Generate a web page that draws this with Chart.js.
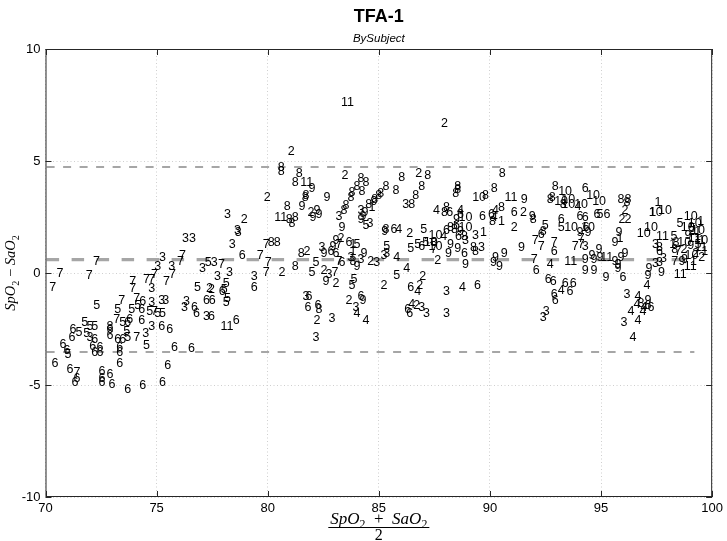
<!DOCTYPE html>
<html>
<head>
<meta charset="utf-8">
<script src="https://cdn.jsdelivr.net/npm/chart.js@4.4.1/dist/chart.umd.min.js"></script>
<style>
  body { margin: 0; background: #fff; }
  canvas { display: block; }
</style>
</head>
<body>
<canvas id="baPlot" width="727" height="541"></canvas>
<script>
// Bland-Altman: x = (SpO2 + SaO2)/2, y = SpO2 - SaO2, one label per sample (subject id)
const subj1 = [[84.53,2.90],[83.68,1.25],[83.68,0.98],[90.36,2.28],[89.55,1.79],[97.40,3.13],[97.17,2.68],[95.70,1.56],[98.07,1.25],[99.33,2.28],[99.19,1.83],[99.37,1.47],[99.51,0.94],[99.00,0.50]];
const subj2 = [[77.22,-0.71],[80.90,5.40],[79.82,3.35],[83.32,4.33],[81.79,2.68],[78.79,2.37],[81.61,0.94],[83.14,1.56],[84.48,0.49],[82.38,0.13],[82.91,-0.45],[80.49,0.00],[77.31,-0.76],[83.50,-1.25],[82.06,-2.14],[87.80,6.65],[86.64,4.42],[91.35,2.72],[86.23,1.74],[90.94,2.01],[87.49,0.54],[86.82,-0.18],[85.07,-0.54],[86.68,-0.58],[86.55,-1.47],[95.92,2.77],[95.78,2.37],[96.05,2.37],[99.10,0.89],[98.92,1.83],[98.57,1.03],[99.37,0.67]];
const subj3 = [[76.14,1.52],[76.46,1.52],[75.11,0.67],[74.89,0.27],[75.52,0.27],[76.91,0.22],[74.62,-0.71],[75.07,-1.21],[75.25,-1.25],[74.62,-1.34],[76.19,-1.29],[76.10,-1.56],[77.09,-1.96],[71.84,-2.86],[74.62,-2.37],[74.35,-2.72],[78.03,2.63],[78.48,1.88],[78.52,1.79],[83.05,2.54],[84.04,2.77],[84.44,2.19],[78.25,1.25],[82.29,1.12],[83.59,0.71],[84.04,0.58],[84.75,0.45],[82.60,-0.09],[79.24,-0.18],[77.58,-0.18],[77.44,0.45],[78.12,0.00],[81.57,-1.03],[83.81,-1.56],[82.74,-2.05],[82.02,-2.86],[86.05,3.04],[88.74,1.47],[89.19,1.65],[85.20,0.89],[85.07,0.80],[89.46,1.12],[87.89,-0.85],[86.77,-1.56],[86.99,-1.83],[87.89,-1.83],[94.13,1.16],[97.29,1.29],[97.29,0.40],[97.47,0.45],[97.65,0.63],[96.01,-0.98],[92.38,-1.70],[92.24,-2.01],[95.87,-2.23]];
const subj4 = [[83.86,-1.79],[84.26,-2.14],[87.44,2.77],[88.52,2.81],[90.09,2.77],[90.04,2.46],[85.74,1.96],[87.76,1.61],[85.65,0.67],[86.10,0.18],[88.61,-0.63],[86.59,-0.85],[86.32,-1.43],[93.81,2.95],[92.56,0.36],[96.91,-0.54],[93.05,-0.80],[96.50,-1.07],[96.46,-1.43],[96.77,-1.56],[96.19,-1.74],[96.73,-1.74],[96.50,-2.14],[96.28,-2.86]];
const subj5 = [[77.17,0.45],[76.68,-0.63],[72.15,-1.47],[73.09,-1.65],[73.72,-1.65],[73.99,-1.47],[74.53,-1.74],[74.89,-1.79],[75.11,-1.79],[71.61,-2.19],[71.84,-2.37],[72.06,-2.37],[71.35,-2.68],[71.70,-2.72],[73.32,-2.23],[73.50,-2.63],[73.54,-2.86],[74.39,-3.26],[70.85,-3.66],[84.26,2.10],[83.86,1.25],[82.02,0.45],[81.84,0.04],[83.72,-0.31],[83.63,-0.54],[77.98,-0.45],[77.89,-0.76],[78.03,-1.12],[77.98,-1.34],[86.86,1.96],[85.20,1.16],[86.28,1.07],[86.59,1.25],[86.95,1.38],[85.65,-0.13],[94.80,2.59],[98.39,2.23],[92.33,2.14],[93.05,2.01],[98.12,1.61],[99.21,1.29],[98.95,2.00]];
const subj6 = [[74.22,-1.29],[74.17,-1.65],[76.55,-1.56],[76.64,-1.79],[77.09,-1.21],[77.35,-1.21],[77.31,-1.96],[71.08,-2.54],[71.03,-2.86],[72.06,-2.99],[71.97,-3.30],[72.29,-3.35],[72.29,-3.57],[72.06,-3.57],[72.74,-2.54],[72.74,-2.77],[73.54,-2.23],[73.63,-2.10],[74.17,-2.14],[75.07,-2.37],[75.43,-2.54],[73.09,-2.99],[73.32,-2.99],[73.18,-3.35],[73.18,-3.57],[70.63,-3.21],[70.81,-3.44],[75.65,-3.35],[76.41,-3.39],[70.27,-4.06],[73.18,-4.06],[75.34,-4.15],[70.94,-4.33],[71.26,-4.69],[71.17,-4.87],[72.38,-4.42],[72.74,-4.55],[72.38,-4.69],[72.38,-4.87],[72.83,-5.00],[73.54,-5.22],[74.22,-5.04],[75.11,-4.87],[78.70,0.76],[82.69,0.98],[82.91,0.89],[83.50,1.34],[83.18,0.45],[79.24,-0.63],[77.80,-0.85],[81.70,-1.03],[81.66,-1.52],[82.11,-1.47],[84.04,-1.03],[78.43,-2.14],[88.03,2.72],[88.52,2.63],[89.51,2.54],[89.91,2.59],[90.94,2.72],[85.52,1.96],[87.89,1.88],[88.34,2.14],[88.43,1.61],[86.77,1.16],[88.70,0.85],[86.28,-0.67],[89.28,-0.54],[91.93,0.09],[86.14,-1.61],[86.23,-1.83],[94.13,3.79],[93.90,2.50],[94.13,2.46],[94.66,2.59],[95.11,2.59],[93.05,2.37],[92.15,1.70],[94.17,2.01],[92.74,0.94],[95.83,-0.22],[97.47,0.98],[92.47,-0.27],[92.69,-0.36],[93.23,-0.45],[93.59,-0.45],[93.45,-0.85],[92.74,-0.98],[92.78,-1.21],[97.09,-1.56],[96.95,-1.47]];
const subj7 = [[72.14,0.50],[70.49,-0.01],[71.81,-0.13],[70.17,-0.64],[76.01,0.80],[75.92,0.49],[75.56,-0.09],[74.75,-0.09],[73.77,-0.40],[74.39,-0.31],[74.62,-0.31],[75.29,-0.36],[73.77,-0.71],[73.27,-1.21],[73.95,-1.16],[74.75,-1.74],[73.05,-2.10],[73.95,-2.86],[71.26,-4.46],[79.78,1.25],[79.51,0.76],[83.05,1.25],[83.05,0.49],[82.87,0.04],[79.87,0.45],[79.78,0.04],[77.76,0.36],[87.31,1.03],[91.84,0.58],[91.88,1.47],[92.15,1.16],[93.95,1.56],[93.95,1.29],[93.68,1.16],[92.74,1.34],[98.30,0.98],[98.16,0.49]];
const subj8 = [[72.74,-2.37],[80.45,4.73],[80.45,4.51],[81.26,4.46],[81.08,4.02],[81.57,3.48],[81.53,3.35],[84.04,4.20],[84.26,4.02],[83.86,3.88],[84.08,3.62],[83.63,3.57],[83.59,3.39],[84.84,3.48],[84.66,3.26],[80.72,2.95],[80.81,2.37],[81.08,2.46],[80.94,2.23],[83.27,2.81],[83.36,2.99],[84.39,3.04],[80.00,1.38],[80.27,1.34],[81.35,0.85],[83.68,0.49],[81.08,0.27],[82.15,-1.61],[85.87,4.24],[87.04,4.33],[90.40,4.42],[85.16,3.84],[85.61,3.66],[86.77,3.84],[86.50,3.44],[88.39,3.84],[88.39,3.71],[88.30,3.53],[90.04,3.75],[84.93,3.53],[86.32,3.04],[89.64,3.48],[87.80,2.68],[87.89,2.90],[90.36,2.90],[89.96,2.28],[91.79,2.37],[85.16,1.96],[88.07,2.01],[88.25,1.96],[88.70,1.61],[87.31,1.34],[89.10,1.12],[89.19,0.94],[92.24,1.83],[92.78,3.84],[92.56,3.26],[92.65,3.39],[93.14,3.04],[95.74,3.26],[96.05,3.26],[96.01,3.13],[97.47,1.12],[96.64,-1.38],[98.21,1.34],[98.16,1.03]];
const subj9 = [[81.84,3.75],[82.51,3.39],[84.62,3.17],[81.39,2.95],[82.06,2.81],[82.15,2.63],[81.88,2.46],[84.22,2.72],[84.04,2.37],[84.13,2.50],[83.18,2.05],[82.38,0.85],[82.78,1.16],[82.91,1.47],[84.17,0.89],[83.86,0.27],[82.47,-0.36],[84.13,-1.25],[91.39,3.30],[91.75,2.50],[85.11,1.83],[88.34,2.37],[88.52,1.83],[88.07,1.25],[87.98,0.85],[88.39,1.07],[88.74,0.36],[90.09,0.67],[90.49,0.85],[90.00,0.45],[90.27,0.31],[91.26,1.12],[93.90,1.79],[94.26,1.79],[94.13,0.58],[94.13,0.13],[94.53,0.58],[94.53,0.13],[94.44,0.76],[94.75,1.03],[94.80,0.71],[95.47,0.49],[95.61,0.36],[95.74,0.67],[95.92,0.89],[95.61,0.22],[95.07,-0.22],[95.65,1.79],[95.47,1.34],[97.56,0.04],[97.00,0.18],[96.95,-0.13],[96.95,-1.25],[98.48,0.49],[98.75,1.65],[98.88,1.21],[98.60,0.60]];
const subj10 = [[89.20,3.37],[87.24,1.65],[88.59,2.46],[88.59,2.01],[87.02,1.38],[87.24,1.16],[93.07,3.62],[94.33,3.48],[92.89,3.17],[93.21,3.26],[93.21,3.04],[93.79,3.04],[94.60,3.17],[97.15,2.68],[97.56,2.81],[98.72,2.50],[93.34,2.01],[94.10,2.05],[96.61,1.74],[96.93,2.05],[98.59,2.01],[98.90,2.19],[98.43,1.38],[98.76,0.76],[99.05,1.90],[99.20,1.45]];
const subj11 = [[81.46,4.02],[80.29,2.46],[77.87,-2.41],[83.30,7.63],[90.65,3.39],[93.34,0.49],[94.96,0.71],[97.47,1.61],[98.72,0.27],[98.27,-0.09],[98.90,1.56],[99.21,1.12]];

const subjects = [subj1, subj2, subj3, subj4, subj5, subj6, subj7, subj8, subj9, subj10, subj11];

// bias and limits of agreement
const bias = 0.6;
const loaUpper = 4.73;
const loaLower = -3.53;
const lineX = [70.05, 99.2];

const xTicks = [70, 75, 80, 85, 90, 95, 100];
const yTicks = [-10, -5, 0, 5, 10];

const FONT = '"Liberation Sans", Arial, Helvetica, sans-serif';
const SERIF = '"Liberation Serif", "Times New Roman", serif';

function hLine(y, width, dash) {
    return {
        type: 'line',
        data: lineX.map(x => ({ x: x, y: y })),
        borderColor: '#a6a6a6',
        borderWidth: width,
        borderDash: dash,
        pointRadius: 0,
        fill: false
    };
}

// draws each sample as its subject number
const labelPlugin = {
    id: 'subjectLabels',
    afterDatasetsDraw(chart) {
        const ctx = chart.ctx;
        ctx.save();
        ctx.font = '12.5px ' + FONT;
        ctx.fillStyle = '#000';
        ctx.textAlign = 'left';
        ctx.textBaseline = 'middle';
        chart.data.datasets.forEach((ds, i) => {
            if (!ds.subject) return;
            chart.getDatasetMeta(i).data.forEach(pt => ctx.fillText(ds.subject, pt.x, pt.y));
        });
        ctx.restore();
    }
};

// box, inward ticks and the math axis labels
const framePlugin = {
    id: 'frame',
    afterDraw(chart) {
        const ctx = chart.ctx;
        const a = chart.chartArea;
        const xs = chart.scales.x, ys = chart.scales.y;
        ctx.save();
        ctx.strokeStyle = '#262626';
        ctx.lineWidth = 1;
        ctx.strokeRect(a.left + 0.5, a.top + 0.5, a.right - a.left - 1, a.bottom - a.top - 1);
        ctx.beginPath();
        xTicks.forEach(v => {
            const px = Math.round(xs.getPixelForValue(v)) + 0.5;
            ctx.moveTo(px, a.bottom); ctx.lineTo(px, a.bottom - 6);
            ctx.moveTo(px, a.top); ctx.lineTo(px, a.top + 6);
        });
        yTicks.forEach(v => {
            const py = Math.round(ys.getPixelForValue(v)) + 0.5;
            ctx.moveTo(a.left, py); ctx.lineTo(a.left + 6, py);
            ctx.moveTo(a.right, py); ctx.lineTo(a.right - 6, py);
        });
        ctx.stroke();

        ctx.fillStyle = '#000';
        ctx.textBaseline = 'alphabetic';

        // x label: (SpO2 + SaO2) / 2
        const cx = (a.left + a.right) / 2;
        const num = [['SpO', 0], ['2', 1], ['  +  ', 2], ['SaO', 0], ['2', 1]];
        const w = drawMath(ctx, num, 0, 0, 17, false);
        drawMath(ctx, num, cx - w / 2, 524, 17, true);
        ctx.fillRect(cx - w / 2 - 2, 527, w + 4, 1);
        ctx.font = '16px ' + SERIF;
        ctx.textAlign = 'center';
        ctx.fillText('2', cx, 540);

        // y label: SpO2 - SaO2
        const cy = (a.top + a.bottom) / 2;
        const yl = [['SpO', 0], ['2', 1], [' \u2212 ', 2], ['SaO', 0], ['2', 1]];
        const wy = drawMath(ctx, yl, 0, 0, 14.5, false);
        ctx.translate(15, cy);
        ctx.rotate(-Math.PI / 2);
        drawMath(ctx, yl, -wy / 2, 0, 14.5, true);
        ctx.restore();
    }
};

// kind 0 = italic, 1 = subscript, 2 = upright operator
function drawMath(ctx, parts, x, y, size, draw) {
    ctx.textAlign = 'left';
    let pos = x;
    parts.forEach(p => {
        let fs = size, dy = 0, style = 'italic ';
        if (p[1] === 1) { fs = size * 0.7; dy = size * 0.25; style = ''; }
        if (p[1] === 2) { style = ''; }
        ctx.font = style + fs + 'px ' + SERIF;
        if (draw) ctx.fillText(p[0], pos, y + dy);
        pos += ctx.measureText(p[0]).width;
    });
    return pos - x;
}

const datasets = [
    hLine(loaUpper, 2, [8, 8.5]),
    hLine(bias, 3.2, [12.5, 12.5]),
    hLine(loaLower, 2, [8, 8.5])
];
subjects.forEach((pts, i) => {
    datasets.push({
        label: 'Subject ' + (i + 1),
        subject: String(i + 1),
        data: pts.map(p => ({ x: p[0], y: p[1] })),
        pointRadius: 0,
        showLine: false
    });
});

const axisFont = { family: FONT, size: 13 };

new Chart(document.getElementById('baPlot'), {
    type: 'scatter',
    data: { datasets: datasets },
    options: {
        responsive: false,
        animation: false,
        layout: { padding: { left: 0, right: 12, top: 0, bottom: 0 } },
        plugins: {
            legend: { display: false },
            tooltip: { enabled: false },
            // fullSize false keeps title and subtitle centred over the plot box
            title: {
                display: true,
                fullSize: false,
                text: 'TFA-1',
                color: '#000',
                font: { family: FONT, size: 18, weight: 'bold' },
                padding: { top: 6, bottom: 4 }
            },
            subtitle: {
                display: true,
                fullSize: false,
                text: 'BySubject',
                color: '#000',
                font: { family: FONT, size: 11.5, style: 'italic' },
                padding: { top: 0, bottom: 3.6 }
            }
        },
        scales: {
            x: {
                type: 'linear',
                min: 70,
                max: 100,
                afterBuildTicks: s => { s.ticks = xTicks.map(v => ({ value: v })); },
                afterFit: s => { s.height = 44; },
                ticks: { color: '#000', font: axisFont, padding: 4 },
                grid: { color: '#cfcfcf', drawTicks: false },
                border: { display: false, dash: [1, 2.5] }
            },
            y: {
                type: 'linear',
                min: -10,
                max: 10,
                afterBuildTicks: s => { s.ticks = yTicks.map(v => ({ value: v })); },
                afterFit: s => { s.width = 45.5; },
                ticks: { color: '#000', font: axisFont, padding: 5 },
                grid: { color: '#cfcfcf', drawTicks: false },
                border: { display: false, dash: [1, 2.5] }
            }
        }
    },
    plugins: [labelPlugin, framePlugin]
});
</script>
</body>
</html>
